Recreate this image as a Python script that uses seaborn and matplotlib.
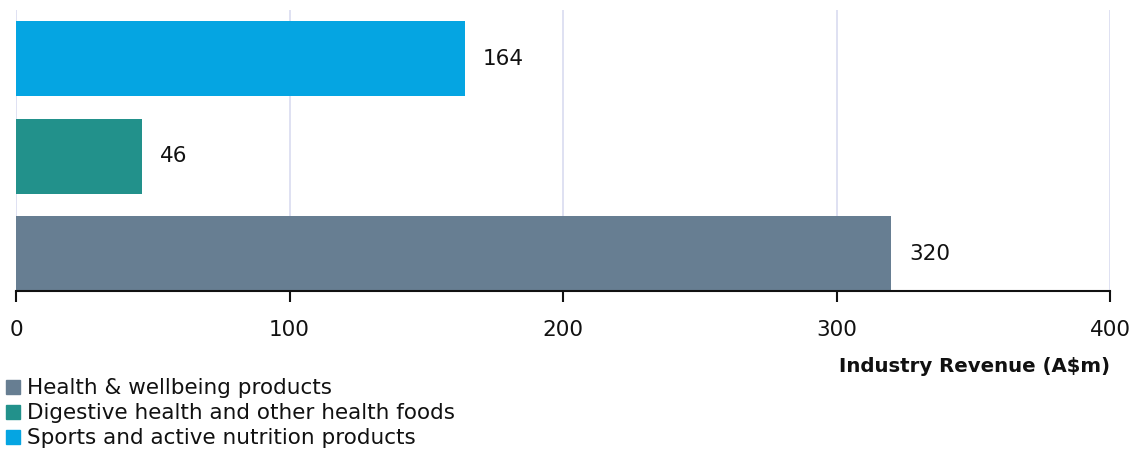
import matplotlib
matplotlib.use("Agg")
import matplotlib.pyplot as plt
import seaborn as sns
import pandas as pd
from matplotlib.lines import Line2D

categories = ["Sports and active nutrition products",
              "Digestive health and other health foods",
              "Health & wellbeing products"]
values = [164, 46, 320]
colors = ["#05A5E2", "#22918B", "#677E92"]
legend_order = ["Health & wellbeing products",
                "Digestive health and other health foods",
                "Sports and active nutrition products"]
xticks = [0, 100, 200, 300, 400]
xlabel = "Industry Revenue (A$m)"

sns.set_theme(style="white")
plt.rcParams['font.family'] = ['DejaVu Sans']
FS = 15.5
TXT = "#111111"

df = pd.DataFrame({"category": categories, "value": values})
palette = dict(zip(categories, colors))

fig = plt.figure(figsize=(11.33, 4.53), dpi=100)
ax = fig.add_axes([16/1133, 1-291/453, (1110-16)/1133, (291-10)/453])

sns.barplot(data=df, x="value", y="category", hue="category", order=categories,
            palette=palette, orient="h", width=0.77, saturation=1, legend=False,
            linewidth=0, ax=ax, zorder=3)

ax.set_xlim(0, 400)
ax.set_ylim(2.385, -0.5)
ax.set_xticks(xticks)
ax.set_xticklabels([str(t) for t in xticks], fontsize=FS, color=TXT)
ax.set_yticks([])
ax.set_ylabel("")
ax.set_xlabel("")
ax.grid(axis="x", color="#D9DCF0", linewidth=1.2, zorder=0)
for s in ["top", "right", "left"]:
    ax.spines[s].set_visible(False)
ax.spines["bottom"].set_color(TXT)
ax.spines["bottom"].set_linewidth(1.5)
ax.spines["bottom"].set_zorder(5)
ax.tick_params(axis="x", bottom=True, direction="out", length=8, width=1.5,
               color=TXT, pad=13)

for i, v in enumerate(values):
    ax.annotate(str(v), xy=(v, i), xytext=(13, 0), textcoords="offset points",
                ha="left", va="center", fontsize=FS, color=TXT)

fig.text(1110/1133, 1-366/453, xlabel, ha="right", va="center",
         fontsize=14.2, fontweight="bold", color=TXT)

handles = [Line2D([0], [0], marker="s", linestyle="none", markersize=10,
                  markerfacecolor=palette[c], markeredgecolor=palette[c])
           for c in legend_order]
leg = fig.legend(handles, legend_order, loc="upper left",
                 bbox_to_anchor=(0.0, 1-376/453),
                 frameon=False, fontsize=FS, handletextpad=0.15, labelspacing=0.24,
                 borderaxespad=0, handlelength=1.0, borderpad=0.1)
for t in leg.get_texts():
    t.set_color(TXT)

fig.savefig("out.png", dpi=100)
